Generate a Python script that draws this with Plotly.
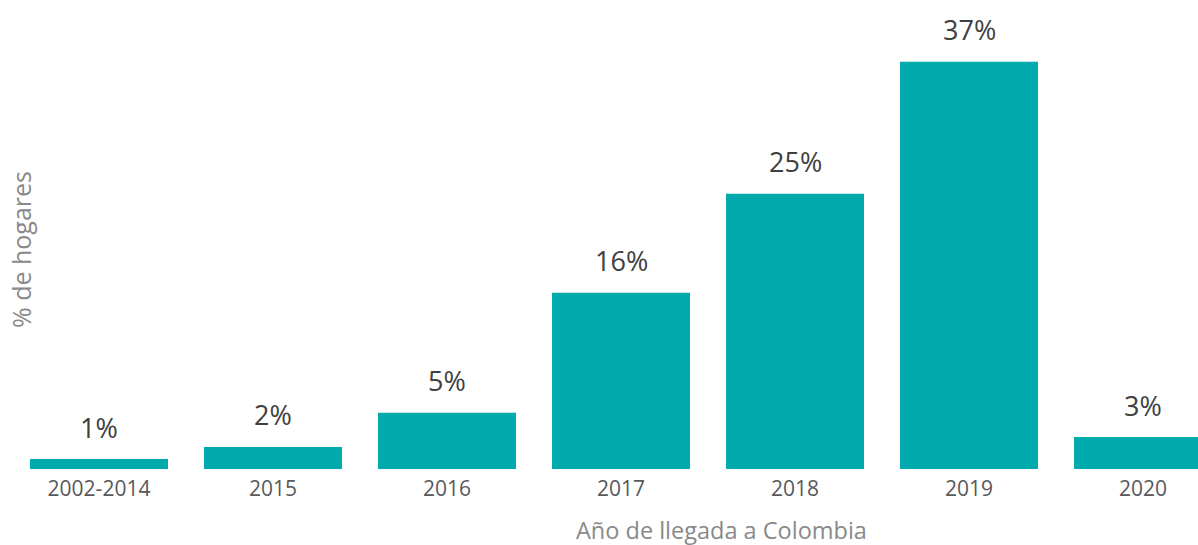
import plotly.graph_objects as go

# Data
years = ["2002-2014", "2015", "2016", "2017", "2018", "2019", "2020"]
pct_hogares = [0.9, 2.0, 5.1, 16.0, 25.0, 37.0, 2.9]

fig = go.Figure()
fig.add_trace(go.Bar(x=years, y=pct_hogares,
                     marker=dict(color="#00AAAD", line=dict(width=0)),
                     hoverinfo="x+y"))

# Value labels sit well above each bar (category index as x)
for i, v in enumerate(pct_hogares):
    fig.add_annotation(x=i, y=v, text="{:.0f}%".format(v),
                       showarrow=False, yanchor="middle", yshift=32,
                       font=dict(size=27, color="#404040"))

# Axis titles
fig.add_annotation(text="% de hogares", textangle=-90,
                   xref="paper", yref="paper", x=0.0076, y=0.467,
                   xanchor="center", yanchor="middle",
                   showarrow=False, font=dict(size=25, color="#898989"))
fig.add_annotation(text="Año de llegada a Colombia",
                   xref="paper", yref="paper", x=0.598, y=-0.13,
                   xanchor="center", yanchor="middle",
                   showarrow=False, font=dict(size=23.5, color="#898989"))

fig.update_layout(width=1198, height=545,
                  paper_bgcolor="white", plot_bgcolor="white",
                  font=dict(family="Open Sans, sans-serif"),
                  margin=dict(l=12, r=0, t=0, b=76),
                  bargap=0.207, showlegend=False,
                  xaxis=dict(type="category", range=[-0.5, 6.316],
                             showline=False, ticks="", ticklabelstandoff=5,
                             tickfont=dict(size=21, color="#595959")),
                  yaxis=dict(range=[0, 42.6], visible=False))

# drop the page's default body margin so the chart fills the window
fig.write_html("out.html", config={"displayModeBar": False},
               post_script="document.body.style.margin='0';"
                           "document.body.style.overflow='hidden';")
